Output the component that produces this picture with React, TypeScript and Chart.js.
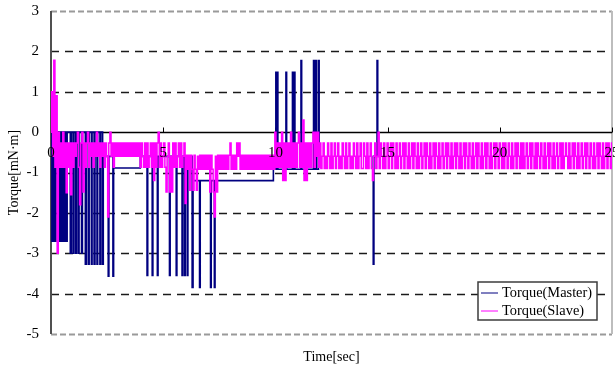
import React, { useEffect, useRef } from "react";
import { Chart, registerables } from "chart.js";

Chart.register(...registerables);

const FONT = "'Liberation Serif', 'Times New Roman', serif";

// ---- axis ticks ----
const xTickValues = [0, 5, 10, 15, 20, 25];
const yTickValues = [3, 2, 1, 0, -1, -2, -3, -4, -5];

// ---- Torque(Master): level changes (time [sec], torque [mN·m]); value holds until next entry ----
const masterTime = [
  0, 0.04, 0.07, 0.12, 0.15, 0.2, 0.22, 0.32, 0.36, 0.42, 0.45, 0.5, 0.54, 0.6, 0.63, 0.68, 0.72,
  0.86, 0.9, 0.98, 1.02, 1.1, 1.14, 1.22, 1.25, 1.36, 1.4,
  1.53, 1.57, 1.66, 1.7, 1.8, 1.83, 1.92, 1.96, 2.05, 2.08, 2.18, 2.22, 2.3, 2.33,
  2.55, 2.58, 2.76, 2.79,
  3.98,
  4.28, 4.31, 4.51, 4.54, 4.74, 4.77, 5.28, 5.31, 5.58, 5.61, 5.84, 5.87, 5.95, 5.98, 6.07, 6.1,
  6.29, 6.33, 6.62, 6.65, 7.11, 7.14, 7.28, 7.31,
  9.91,
  10.02, 10.05, 10.08, 10.11, 10.47, 10.5, 10.76, 10.79, 10.84, 10.87,
  11.14, 11.17, 11.7, 11.73, 11.8, 11.83, 11.92, 11.95,
  12.0, 14.33, 14.36, 14.39, 14.53, 14.56, 14.62,
];
const masterTorque = [
  0, -2.7, 0, -2.7, 0, -2.7, 0, -2.7, 0, -2.7, 0, -2.7, 0, -2.7, 0, -2.7, 0,
  -3.0, 0, -3.0, 0, -3.0, 0, -3.0, 0, -3.0, 0,
  -3.27, 0, -3.27, 0, -3.27, 0, -3.27, 0, -3.27, 0, -3.27, 0, -3.27, -0.6,
  -3.57, -0.6, -3.57, -0.89,
  -0.6,
  -3.55, -0.6, -3.55, -0.6, -3.55, -0.6, -3.55, -0.6, -3.55, -0.6, -3.55, -0.6, -3.55, -0.6, -3.55, -0.6,
  -3.85, -1.2, -3.85, -1.2, -3.85, -1.2, -3.85, -1.2,
  -0.92,
  1.48, -0.92, 1.48, -0.92, 1.48, -0.92, 1.48, -0.92, 1.48, -0.92,
  1.77, -0.92, 1.77, -0.92, 1.77, -0.92, 1.77, -0.6,
  null, -0.6, -3.27, -0.6, 1.77, -0.6, -0.6,
];

// ---- Torque(Slave): samples every 0.05 sec from 0 to 25 sec ----
const SLAVE_SAMPLE_STEP = 0.05;
const slaveTorque = [
  // 0 s
  0, 1.0, -0.6, 1.78, -0.87, 0.9, -3.0, 0, -0.87, -0.27, -0.87, 0, -0.87, -0.27, -1.5, -0.27, -0.87, -0.27, -1.55, -0.27,
  // 1 s
  -0.87, -0.27, -0.6, -0.27, 0, -0.87, -1.8, -0.27, 0, -1.48, -0.27, -0.87, -0.27, 0, -0.87, -0.27, -0.6, -0.27, -0.87, -0.27,
  // 2 s
  -0.6, 0, -0.6, -0.27, -0.87, -0.27, -0.6, -0.27, -0.87, -0.27, -0.6, -2.1, -0.27, 0, -0.6, -0.27, -0.87, -0.27, -0.6, -0.27,
  // 3 s
  -0.6, -0.27, -0.6, -0.27, -0.6, -0.27, -0.6, -0.27, -0.6, -0.27, -0.6, -0.27, -0.6, -0.27, -0.6, -0.27, -0.6, -0.27, -0.6, -0.27,
  // 4 s
  -0.87, -0.27, -0.6, -0.87, -0.27, -0.87, -0.27, -0.87, -0.6, -0.27, -0.87, -0.27, -1.2, -0.27, -0.87, -0.27, 0, -0.87, -0.27, -0.87,
  // 5 s
  -0.6, -0.27, -0.87, -1.48, -0.6, -0.27, -1.48, -0.6, -1.48, -0.27, -0.87, -0.27, -0.87, -0.6, -0.27, -0.87, -0.27, -0.87, -0.6, -0.27,
  // 6 s
  -1.77, -0.57, -0.92, -0.57, -1.44, -0.57, -0.92, -1.44, -0.57, -0.92, -1.44, -0.6, -0.92, -0.57, -0.92, -0.57, -0.92, -0.57, -0.92, -0.57,
  // 7 s
  -0.92, -0.57, -1.48, -0.57, -0.92, -1.48, -2.1, -0.6, -1.48, -0.57, -0.92, -0.57, -0.92, -0.57, -0.92, -0.57, -0.92, -0.57, -0.92, -0.57,
  // 8 s
  -0.27, -0.92, -0.57, -0.92, -0.57, -0.92, -0.27, -0.6, -0.27, -0.92, -0.57, -0.92, -0.57, -0.92, -0.57, -0.92, -0.57, -0.92, -0.57, -0.92,
  // 9 s
  -0.57, -0.92, -0.57, -0.92, -0.57, -0.92, -0.57, -0.92, -0.57, -0.92, -0.57, -0.92, -0.57, -0.92, -0.57, -0.92, -0.57, -0.92, -0.57, -0.92,
  // 10 s
  0, -0.87, -0.27, -0.87, -0.27, -0.87, 0, -1.2, -0.27, -1.2, -0.27, -0.87, -0.27, -0.87, 0, -0.87, -0.27, -0.87, -0.27, -0.87,
  // 11 s
  -0.27, 0, -0.87, -0.27, -0.87, 0.3, -1.2, -0.27, -1.2, -0.27, -0.87, -0.27, -0.87, -0.27, 0, -0.87, 0, -0.6, 0, -0.87,
  // 12 s
  -0.27, -0.9, -0.6, -0.27, -0.9, -0.6, -0.9, -0.27, -0.6, -0.9, -0.27, -0.9, -0.6, -0.27, -0.9, -0.6, -0.27, -0.9, -0.6, -0.9,
  // 13 s
  -0.27, -0.6, -0.9, -0.27, -0.9, -0.6, -0.27, -0.9, -0.6, -0.9, -0.27, -0.6, -0.9, -0.27, -0.9, -0.6, -0.27, -0.9, -0.9, -0.27,
  // 14 s
  -0.6, -0.9, -0.27, -0.9, -0.6, -0.27, -0.9, -1.2, -0.6, -0.27, -0.9, -0.6, 0, -0.9, -0.27, -0.6, -0.9, -0.27, -0.9, -0.6,
  // 15 s
  -0.27, -0.9, -0.6, -0.27, -0.9, -0.27, -0.6, -0.9, -0.27, -0.9, -0.6, -0.27, -0.9, -0.6, -0.27, -0.9, -0.27, -0.6, -0.9, -0.27,
  // 16 s
  -0.9, -0.6, -0.27, -0.9, -0.27, -0.6, -0.9, -0.27, -0.9, -0.6, -0.27, -0.9, -0.6, -0.27, -0.9, -0.27, -0.6, -0.9, -0.27, -0.9,
  // 17 s
  -0.6, -0.27, -0.9, -0.27, -0.6, -0.9, -0.27, -0.9, -0.6, -0.27, -0.9, -0.6, -0.27, -0.9, -0.27, -0.6, -0.9, -0.27, -0.9, -0.6,
  // 18 s
  -0.27, -0.9, -0.27, -0.6, -0.9, -0.27, -0.9, -0.6, -0.27, -0.9, -0.27, -0.6, -0.9, -0.27, -0.6, -0.9, -0.27, -0.9, -0.6, -0.27,
  // 19 s
  -0.9, -0.27, -0.6, -0.9, -0.27, -0.9, -0.6, -0.27, -0.9, -0.27, -0.6, -0.9, -0.27, -0.9, -0.6, -0.27, -0.9, -0.27, -0.6, -0.9,
  // 20 s
  -0.27, -0.6, -0.9, -0.27, -0.9, -0.27, -0.6, -0.9, -0.27, -0.6, -0.9, -0.27, -0.9, -0.6, -0.27, -0.9, -0.27, -0.6, -0.9, -0.27,
  // 21 s
  -0.9, -0.27, -0.9, -0.6, -0.27, -0.9, -0.6, -0.27, -0.9, -0.27, -0.6, -0.9, -0.27, -0.9, -0.27, -0.6, -0.9, -0.27, -0.6, -0.9,
  // 22 s
  -0.27, -0.9, -0.6, -0.27, -0.9, -0.27, -0.6, -0.9, -0.27, -0.9, -0.6, -0.27, -0.9, -0.6, -0.27, -0.9, -0.27, -0.9, -0.6, -0.27,
  // 23 s
  -0.6, -0.9, -0.27, -0.9, -0.6, -0.27, -0.9, -0.27, -0.6, -0.9, -0.27, -0.9, -0.6, -0.27, -0.9, -0.6, -0.27, -0.9, -0.27, -0.6,
  // 24 s
  -0.9, -0.27, -0.6, -0.9, -0.27, -0.9, -0.6, -0.27, -0.9, -0.27, -0.6, -0.9, -0.27, -0.9, -0.6, -0.27, -0.9, -0.27, -0.6, -0.9,
  // 25 s
  -0.27,
];

const seriesLabels = ["Torque(Master)", "Torque(Slave)"];
const seriesColors = ["#000080", "#ff00ff"];

const masterData = masterTime.map((t, i) => ({ x: t, y: masterTorque[i] }));
const slaveData = slaveTorque.map((v, i) => ({ x: i * SLAVE_SAMPLE_STEP, y: v }));

function strokeLine(ctx: CanvasRenderingContext2D, x1: number, y1: number, x2: number, y2: number) {
  ctx.beginPath();
  ctx.moveTo(x1, y1);
  ctx.lineTo(x2, y2);
  ctx.stroke();
}

const framePlugin = {
  id: "frame",
  beforeDatasetsDraw(chart: any) {
    const { ctx, chartArea: a, scales } = chart;
    const x = scales.x;
    const y = scales.y;
    ctx.save();
    for (const v of yTickValues) {
      if (v === 0) continue;
      const py = Math.round(y.getPixelForValue(v)) + 0.5;
      if (v === 3 || v === -5) {
        ctx.strokeStyle = "#9a9a9a";
        ctx.lineWidth = 2;
        ctx.setLineDash([6, 3]);
      } else {
        ctx.strokeStyle = "#1a1a1a";
        ctx.lineWidth = 1.3;
        ctx.setLineDash([8, 6]);
      }
      strokeLine(ctx, a.left, py, a.right, py);
    }
    ctx.setLineDash([]);
    ctx.strokeStyle = "#bdbdbd";
    ctx.lineWidth = 2;
    strokeLine(ctx, a.right, a.top, a.right, a.bottom);
    const y0 = Math.round(y.getPixelForValue(0)) + 0.5;
    ctx.strokeStyle = "#000";
    ctx.lineWidth = 1.5;
    strokeLine(ctx, a.left, y0, a.right, y0);
    ctx.lineWidth = 1;
    for (const v of xTickValues) {
      const px = Math.round(x.getPixelForValue(v)) + 0.5;
      strokeLine(ctx, px, y0, px, y0 - 5);
    }
    ctx.strokeStyle = "#505050";
    ctx.lineWidth = 2;
    strokeLine(ctx, a.left, a.top, a.left, a.bottom);
    ctx.restore();
  },
  afterDraw(chart: any) {
    const { ctx, chartArea: a } = chart;
    const w = 119;
    const h = 38;
    const right = a.right - 15;
    const bottom = a.bottom - 14;
    const left = right - w;
    const top = bottom - h;
    ctx.save();
    ctx.fillStyle = "#fff";
    ctx.fillRect(left, top, w, h);
    ctx.strokeStyle = "#3c3c3c";
    ctx.lineWidth = 1.5;
    ctx.strokeRect(left, top, w, h);
    ctx.font = `14.4px ${FONT}`;
    ctx.textBaseline = "middle";
    ctx.textAlign = "left";
    chart.data.datasets.forEach((ds: any, i: number) => {
      const ly = Math.round(top + 10.5 + i * 18);
      ctx.strokeStyle = ds.borderColor;
      ctx.lineWidth = 1;
      strokeLine(ctx, left + 3, ly, left + 20, ly);
      ctx.fillStyle = "#000";
      ctx.fillText(ds.label, left + 24, ly + 0.5);
    });
    ctx.restore();
  },
};

export default function App() {
  const ref = useRef<HTMLCanvasElement>(null);
  useEffect(() => {
    const chart = new Chart(ref.current as HTMLCanvasElement, {
      type: "line",
      data: {
        datasets: [
          {
            label: seriesLabels[0],
            data: masterData,
            borderColor: seriesColors[0],
            backgroundColor: seriesColors[0],
            borderWidth: 1.6,
            pointRadius: 0,
            stepped: true,
            spanGaps: false,
            order: 2,
          },
          {
            label: seriesLabels[1],
            data: slaveData,
            borderColor: seriesColors[1],
            backgroundColor: seriesColors[1],
            borderWidth: 1.5,
            pointRadius: 0,
            stepped: "middle",
            order: 1,
          },
        ],
      },
      options: {
        animation: false,
        responsive: false,
        maintainAspectRatio: false,
        events: [],
        layout: { padding: { top: 11, right: 3, left: 0, bottom: 0 } },
        plugins: {
          legend: { display: false },
          tooltip: { enabled: false },
          title: {
            display: true,
            text: "Time[sec]",
            position: "bottom",
            fullSize: false,
            color: "#000",
            font: { family: FONT, size: 14, weight: "normal" },
            padding: { top: 14.6, bottom: 3.6 },
          },
        },
        scales: {
          x: {
            type: "linear",
            min: 0,
            max: 25,
            position: { y: 0 },
            grid: { display: false, drawTicks: false },
            border: { display: false },
            ticks: {
              stepSize: 5,
              autoSkip: false,
              maxRotation: 0,
              color: "#000",
              padding: 12,
              z: 1,
              font: { family: FONT, size: 15 },
            },
            afterFit(s: any) {
              s.paddingLeft = 0;
              s.paddingRight = 0;
            },
          },
          y: {
            type: "linear",
            min: -5,
            max: 3,
            position: "left",
            grid: { display: false, drawTicks: false },
            border: { display: false },
            ticks: {
              stepSize: 1,
              color: "#000",
              padding: 12,
              font: { family: FONT, size: 15 },
            },
            title: {
              display: true,
              text: "Torque[mN·m]",
              color: "#000",
              font: { family: FONT, size: 14 },
              padding: { top: 5.6, bottom: 0 },
            },
            afterFit(s: any) {
              s.width = 51;
              s.paddingTop = 0;
              s.paddingBottom = 0;
            },
          },
        },
      } as any,
      plugins: [framePlugin],
    });
    return () => chart.destroy();
  }, []);
  return (
    <div style={{ position: "fixed", left: 0, top: 0, width: 615, height: 369, background: "#fff" }}>
      <canvas ref={ref} width={615} height={369} style={{ display: "block", width: 615, height: 369 }} />
    </div>
  );
}
